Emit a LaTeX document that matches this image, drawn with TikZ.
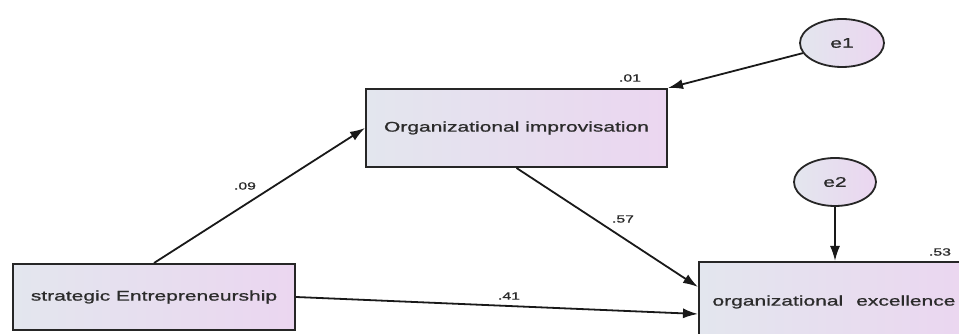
\documentclass[tikz,border=0pt]{standalone}
\usepackage{fontspec}
\setmainfont{Liberation Sans}
\newfontfamily\semib{Liberation Sans}[FakeBold=0.8]
\usetikzlibrary{arrows.meta,shapes.geometric}
\definecolor{boxL}{HTML}{E3E6EE}
\definecolor{boxR}{HTML}{EBD6F0}
\definecolor{txt}{HTML}{2B2B2B}
\newcommand\wtxt[1]{\scalebox{1.5}[1]{#1}}
\tikzset{
  varbox/.style={draw=black!85, line width=2pt, rectangle, left color=boxL, right color=boxR,
     text=txt, font=\semib\fontsize{14}{16}\selectfont, inner sep=0pt},
  errnode/.style={draw=black!85, line width=1.8pt, ellipse, left color=boxL, right color=boxR,
     text=txt, font=\semib\fontsize{14}{16}\selectfont, inner sep=0pt},
  path/.style={draw=black!90, line width=1.8pt, -{Latex[length=15pt,width=10pt]}},
  coef/.style={text=txt, font=\semib\fontsize{10.5}{12}\selectfont, inner sep=0pt}
}
\begin{document}
\begin{tikzpicture}[x=1pt,y=1pt]
\clip (0,0) rectangle (959,334);
\fill[white] (0,0) rectangle (959,334);
\node[varbox, minimum width=282pt, minimum height=66pt] (SE) at (154,37) {\wtxt{strategic Entrepreneurship}};
\node[varbox, minimum width=301pt, minimum height=78pt] (OI) at (516.5,206) {\wtxt{Organizational improvisation}};
\node[varbox, minimum width=270pt, minimum height=80pt] (OE) at (834,32) {\wtxt{organizational\hspace{0.62em}excellence}};
\node[errnode, minimum width=84pt, minimum height=48pt] (E1) at (842,291) {\scalebox{1.5}[1]{e1}};
\node[errnode, minimum width=82pt, minimum height=48pt] (E2) at (835,152) {\scalebox{1.5}[1]{e2}};

\draw[path] (SE.north) -- (OI.west);
\draw[path] (OI.south) -- ([yshift=15pt]OE.west);
\draw[path] (SE.east) -- ([yshift=-12pt]OE.west);
\draw[path] (E1) -- (OI.north east);
\draw[path] (E2.south) -- (E2.south |- OE.north);

\node[coef] (c01) at (630,256) {\wtxt{.01}};
\node[coef] (c09) at (245,148) {\wtxt{.09}};
\node[coef] (c57) at (623,115) {\wtxt{.57}};
\node[coef] (c41) at (509,38) {\wtxt{.41}};
\node[coef] (c53) at (940,82) {\wtxt{.53}};
\end{tikzpicture}
\end{document}
